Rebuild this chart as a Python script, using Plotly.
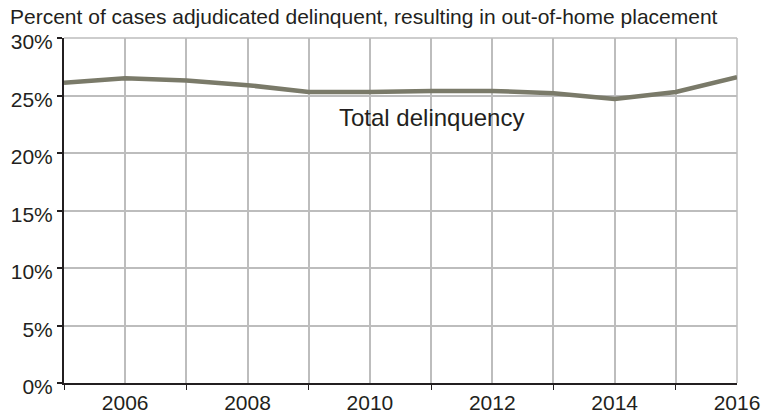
import plotly.graph_objects as go

years = [2005, 2006, 2007, 2008, 2009, 2010, 2011, 2012, 2013, 2014, 2015, 2016]
total_delinquency = [26.1, 26.5, 26.3, 25.9, 25.3, 25.3, 25.4, 25.4, 25.2, 24.7, 25.3, 26.6]
y_ticks = [0, 5, 10, 15, 20, 25, 30]
y_tick_labels = ["0%", "5%", "10%", "15%", "20%", "25%", "30%"]
x_major = [2006, 2008, 2010, 2012, 2014, 2016]
x_minor = [2005, 2007, 2009, 2011, 2013, 2015]
title_text = "Percent of cases adjudicated delinquent, resulting in out-of-home placement"
series_label = "Total delinquency"

FONT = "Liberation Sans, Arial, Helvetica, sans-serif"
GRID = "#bdbdbd"
TEXT = "#231f20"

fig = go.Figure()
fig.add_trace(go.Scatter(
    x=years, y=total_delinquency, mode="lines",
    line=dict(color="#7a7a69", width=4.5),
    hoverinfo="skip", showlegend=False,
))

fig.add_annotation(
    x=2011.0, y=23.1, text=series_label, showarrow=False,
    xref="x", yref="y", xanchor="center", yanchor="middle",
    font=dict(family=FONT, size=24, color=TEXT),
)
fig.add_annotation(
    x=0, y=1, xref="paper", yref="paper", xshift=-56, yshift=22,
    xanchor="left", yanchor="middle", text=title_text, showarrow=False,
    font=dict(family=FONT, size=21, color=TEXT),
)

fig.update_layout(
    width=763, height=414,
    margin=dict(l=64, r=26, t=38, b=31),
    paper_bgcolor="white", plot_bgcolor="white",
    font=dict(family=FONT, size=21, color=TEXT),
    xaxis=dict(
        range=[2005, 2016], tickvals=x_major, ticktext=[str(v) for v in x_major],
        ticks="", showgrid=True, gridcolor=GRID, gridwidth=1.5,
        showline=True, linecolor=TEXT, linewidth=2,
        mirror=False, zeroline=False, tickfont=dict(size=21),
        automargin=False,
        minor=dict(tickvals=x_minor, ticks="outside", ticklen=5, tickcolor=TEXT,
                   showgrid=True, gridcolor=GRID, gridwidth=1.5),
        fixedrange=True,
    ),
    yaxis=dict(
        range=[0, 30], tickvals=y_ticks, ticktext=y_tick_labels,
        ticks="outside", ticklen=5, tickcolor=TEXT, tickwidth=1.5,
        showgrid=True, gridcolor=GRID, gridwidth=1.5,
        showline=True, linecolor=TEXT, linewidth=2,
        zeroline=False, tickfont=dict(size=21), fixedrange=True,
        ticklabelshift=4, automargin=False,
    ),
    shapes=[
        dict(type="line", xref="paper", yref="paper", x0=1, x1=1, y0=0, y1=1,
             line=dict(color=GRID, width=1.5), layer="below"),
        dict(type="line", xref="paper", yref="paper", x0=0, x1=1, y0=1, y1=1,
             line=dict(color=GRID, width=1.5), layer="below"),
    ],
)

fig.write_html("out.html", config={"displayModeBar": False},
               post_script="document.body.style.margin='0px';")
